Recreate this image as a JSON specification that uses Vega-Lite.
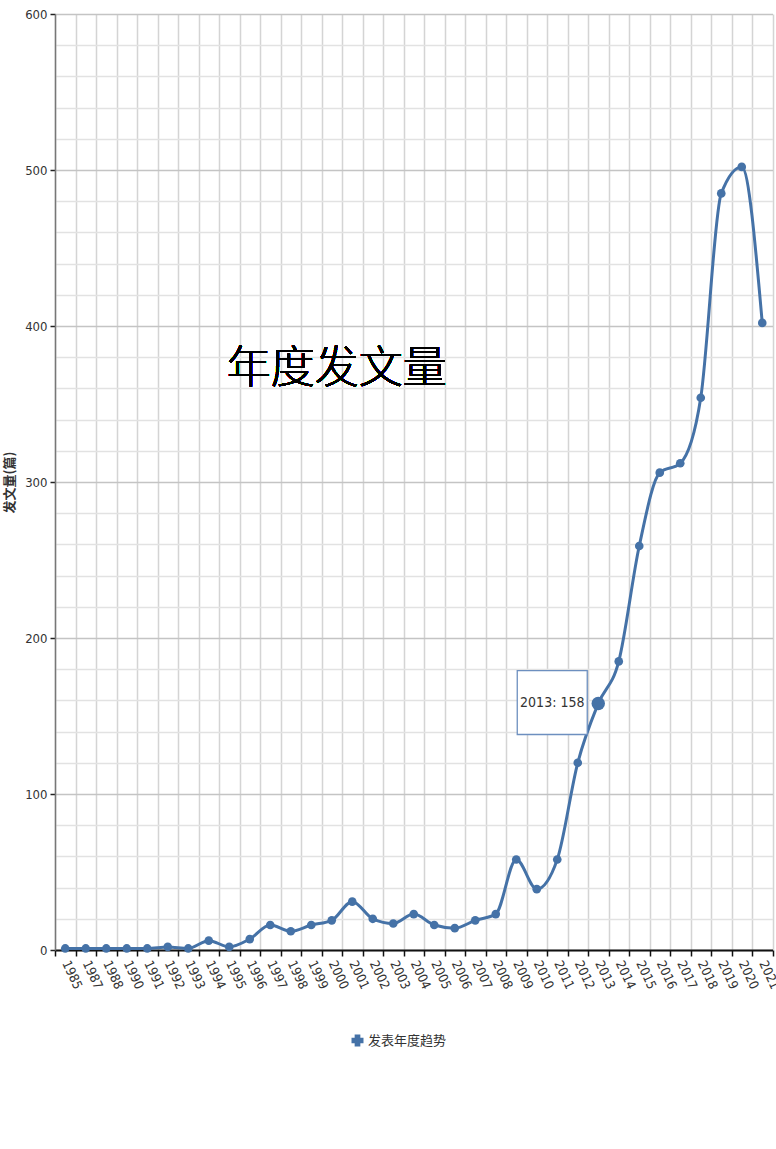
{
  "$schema": "https://vega.github.io/schema/vega-lite/v6.json",
  "autosize": "none",
  "width": 717.5,
  "height": 936,
  "padding": {"left": 55, "top": 14, "right": 3, "bottom": 199},
  "background": "white",
  "config": {
    "view": {"stroke": null},
    "font": "Liberation Sans Narrow, DejaVu Sans Condensed, sans-serif"
  },
  "data": {
    "values": [
      {"year": "1985", "count": 1, "series": "发表年度趋势"},
      {"year": "1987", "count": 1, "series": "发表年度趋势"},
      {"year": "1988", "count": 1, "series": "发表年度趋势"},
      {"year": "1990", "count": 1, "series": "发表年度趋势"},
      {"year": "1991", "count": 1, "series": "发表年度趋势"},
      {"year": "1992", "count": 2, "series": "发表年度趋势"},
      {"year": "1993", "count": 1, "series": "发表年度趋势"},
      {"year": "1994", "count": 6, "series": "发表年度趋势"},
      {"year": "1995", "count": 2, "series": "发表年度趋势"},
      {"year": "1996", "count": 7, "series": "发表年度趋势"},
      {"year": "1997", "count": 16, "series": "发表年度趋势"},
      {"year": "1998", "count": 12, "series": "发表年度趋势"},
      {"year": "1999", "count": 16, "series": "发表年度趋势"},
      {"year": "2000", "count": 19, "series": "发表年度趋势"},
      {"year": "2001", "count": 31, "series": "发表年度趋势"},
      {"year": "2002", "count": 20, "series": "发表年度趋势"},
      {"year": "2003", "count": 17, "series": "发表年度趋势"},
      {"year": "2004", "count": 23, "series": "发表年度趋势"},
      {"year": "2005", "count": 16, "series": "发表年度趋势"},
      {"year": "2006", "count": 14, "series": "发表年度趋势"},
      {"year": "2007", "count": 19, "series": "发表年度趋势"},
      {"year": "2008", "count": 23, "series": "发表年度趋势"},
      {"year": "2009", "count": 58, "series": "发表年度趋势"},
      {"year": "2010", "count": 39, "series": "发表年度趋势"},
      {"year": "2011", "count": 58, "series": "发表年度趋势"},
      {"year": "2012", "count": 120, "series": "发表年度趋势"},
      {"year": "2013", "count": 158, "series": "发表年度趋势"},
      {"year": "2014", "count": 185, "series": "发表年度趋势"},
      {"year": "2015", "count": 259, "series": "发表年度趋势"},
      {"year": "2016", "count": 306, "series": "发表年度趋势"},
      {"year": "2017", "count": 312, "series": "发表年度趋势"},
      {"year": "2018", "count": 354, "series": "发表年度趋势"},
      {"year": "2019", "count": 485, "series": "发表年度趋势"},
      {"year": "2020", "count": 502, "series": "发表年度趋势"},
      {"year": "2021", "count": 402, "series": "发表年度趋势"}
    ]
  },
  "encoding": {
    "x": {
      "field": "year",
      "type": "nominal",
      "sort": null,
      "scale": {"type": "band", "paddingInner": 0, "paddingOuter": 0},
      "axis": {
        "title": null,
        "tickBand": "extent",
        "grid": true,
        "gridColor": "#d4d4d4",
        "gridWidth": 1.5,
        "domainColor": "#111111",
        "domainWidth": 2,
        "tickColor": "#111111",
        "tickWidth": 1.5,
        "tickSize": 6,
        "labelAngle": 65,
        "labelAlign": "left",
        "labelBaseline": "middle",
        "labelOffset": 0,
        "labelPadding": 5,
        "labelFontSize": 13,
        "labelColor": "#333333"
      }
    },
    "y": {
      "field": "count",
      "type": "quantitative",
      "scale": {"domain": [0, 600], "nice": false},
      "axis": {
        "values": [0, 20, 40, 60, 80, 100, 120, 140, 160, 180, 200, 220, 240, 260, 280, 300, 320, 340, 360, 380, 400, 420, 440, 460, 480, 500, 520, 540, 560, 580, 600],
        "labelExpr": "datum.value % 100 === 0 ? datum.label : ''",
        "grid": true,
        "gridWidth": 1.5,
        "gridColor": {"condition": {"test": "datum.value % 100 === 0", "value": "#c4c4c4"}, "value": "#e2e2e2"},
        "tickOpacity": {"condition": {"test": "datum.value % 100 === 0", "value": 1}, "value": 0},
        "tickColor": "#222222",
        "tickSize": 5,
        "tickWidth": 1.5,
        "domainColor": "#777777",
        "domainWidth": 1.5,
        "labelFontSize": 13,
        "labelColor": "#333333",
        "labelPadding": 3,
        "title": "发文量(篇)",
        "titleFont": "Noto Sans CJK SC",
        "titleFontSize": 13,
        "titleFontWeight": "bold",
        "titleColor": "#333333",
        "titlePadding": 8
      }
    }
  },
  "layer": [
    {
      "mark": {"type": "line", "interpolate": "monotone", "strokeWidth": 3},
      "encoding": {
        "color": {
          "field": "series",
          "type": "nominal",
          "scale": {"range": ["#4572A7"]},
          "legend": {
            "title": null,
            "orient": "none",
            "legendX": 296,
            "legendY": 1020,
            "direction": "horizontal",
            "symbolType": "cross",
            "symbolFillColor": "#4572A7",
            "symbolStrokeColor": "#4572A7",
            "symbolSize": 110,
            "labelFont": "Noto Sans CJK SC",
            "labelFontSize": 13,
            "labelColor": "#333333"
          }
        }
      }
    },
    {
      "mark": {"type": "point", "filled": true, "size": 75, "opacity": 1},
      "encoding": {
        "color": {"field": "series", "type": "nominal"}
      }
    },
    {
      "transform": [{"filter": "datum.year === '2013'"}],
      "mark": {"type": "point", "filled": true, "size": 180, "opacity": 1, "color": "#4572A7"}
    },
    {
      "transform": [{"filter": "datum.year === '2013'"}],
      "mark": {
        "type": "point",
        "shape": "M-1,-0.914L1,-0.914L1,0.914L-1,0.914Z",
        "size": 4900,
        "filled": true,
        "fill": "white",
        "stroke": "#6d8fbf",
        "strokeWidth": 1.3,
        "opacity": 1,
        "xOffset": -46,
        "yOffset": -1
      }
    },
    {
      "transform": [{"filter": "datum.year === '2013'"}],
      "mark": {
        "type": "text",
        "fontSize": 14,
        "color": "#333333",
        "xOffset": -46,
        "yOffset": -1,
        "align": "center",
        "baseline": "middle"
      },
      "encoding": {"text": {"value": "2013: 158"}}
    },
    {
      "mark": {
        "type": "text",
        "font": "Noto Sans CJK SC",
        "fontSize": 44,
        "fontWeight": 300,
        "color": "#000000",
        "align": "center",
        "baseline": "middle",
        "dx": 5
      },
      "encoding": {
        "x": {"datum": "2000", "type": "nominal"},
        "y": {"datum": 372, "type": "quantitative"},
        "text": {"value": "年度发文量"}
      }
    }
  ]
}
